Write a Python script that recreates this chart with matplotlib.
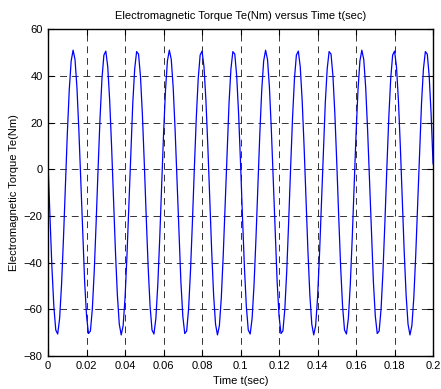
import numpy as np
import matplotlib
matplotlib.use("Agg")
import matplotlib.pyplot as plt

dt = 0.001
torque = [
    2.3, -20.6, -42.0, -58.8, -68.9, -70.6, -63.9, -49.5, -29.7, -7.0,
    15.2, 33.9, 46.4, 51.0, 47.0, 35.0, 16.7, -5.3, -28.0, -48.2,
    -63.0, -70.4, -69.3, -59.8, -43.4, -22.3, 0.6, 22.0, 38.8, 48.9,
    50.6, 43.9, 29.5, 9.7, -13.0, -35.2, -53.9, -66.4, -71.0, -67.0,
    -55.0, -36.7, -14.7, 8.0, 28.2, 43.0, 50.4, 49.3, 39.8, 23.4,
    2.3, -20.6, -42.0, -58.8, -68.9, -70.6, -63.9, -49.5, -29.7, -7.0,
    15.2, 33.9, 46.4, 51.0, 47.0, 35.0, 16.7, -5.3, -28.0, -48.2,
    -63.0, -70.4, -69.3, -59.8, -43.4, -22.3, 0.6, 22.0, 38.8, 48.9,
    50.6, 43.9, 29.5, 9.7, -13.0, -35.2, -53.9, -66.4, -71.0, -67.0,
    -55.0, -36.7, -14.7, 8.0, 28.2, 43.0, 50.4, 49.3, 39.8, 23.4,
    2.3, -20.6, -42.0, -58.8, -68.9, -70.6, -63.9, -49.5, -29.7, -7.0,
    15.2, 33.9, 46.4, 51.0, 47.0, 35.0, 16.7, -5.3, -28.0, -48.2,
    -63.0, -70.4, -69.3, -59.8, -43.4, -22.3, 0.6, 22.0, 38.8, 48.9,
    50.6, 43.9, 29.5, 9.7, -13.0, -35.2, -53.9, -66.4, -71.0, -67.0,
    -55.0, -36.7, -14.7, 8.0, 28.2, 43.0, 50.4, 49.3, 39.8, 23.4,
    2.3, -20.6, -42.0, -58.8, -68.9, -70.6, -63.9, -49.5, -29.7, -7.0,
    15.2, 33.9, 46.4, 51.0, 47.0, 35.0, 16.7, -5.3, -28.0, -48.2,
    -63.0, -70.4, -69.3, -59.8, -43.4, -22.3, 0.6, 22.0, 38.8, 48.9,
    50.6, 43.9, 29.5, 9.7, -13.0, -35.2, -53.9, -66.4, -71.0, -67.0,
    -55.0, -36.7, -14.7, 8.0, 28.2, 43.0, 50.4, 49.3, 39.8, 23.4,
    2.3,
]
t = np.arange(len(torque)) * dt

xticks = [0, 0.02, 0.04, 0.06, 0.08, 0.1, 0.12, 0.14, 0.16, 0.18, 0.2]
xlabels = ["0", "0.02", "0.04", "0.06", "0.08", "0.1", "0.12", "0.14", "0.16", "0.18", "0.2"]
yticks = [-80, -60, -40, -20, 0, 20, 40, 60]

plt.rcParams['font.family'] = ['Liberation Sans', 'DejaVu Sans']
plt.rcParams['font.size'] = 8

fig = plt.figure(figsize=(4.41, 3.89), dpi=100)
ax = fig.add_axes([0.109, 0.085, 0.873, 0.840])

ax.plot(t, torque, color='#0000ff', linewidth=0.9)

ax.set_xlim(0, 0.2)
ax.set_ylim(-80, 60)
ax.set_xticks(xticks)
ax.set_xticklabels(xlabels)
ax.set_yticks(yticks)
ax.tick_params(direction='in', top=True, right=True, length=4, width=0.8, labelsize=8, pad=4)
ax.grid(True, color='#333333', linestyle=(0, (7, 5)), linewidth=0.7)
for s in ax.spines.values():
    s.set_linewidth(1.0)

ax.set_title("Electromagnetic Torque Te(Nm) versus Time t(sec)", fontsize=8, pad=7)
ax.set_xlabel("Time t(sec)", fontsize=8, labelpad=3)
ax.set_ylabel("Electromagnetic Torque Te(Nm)", fontsize=8, labelpad=3)

fig.savefig("out.png", dpi=100)
